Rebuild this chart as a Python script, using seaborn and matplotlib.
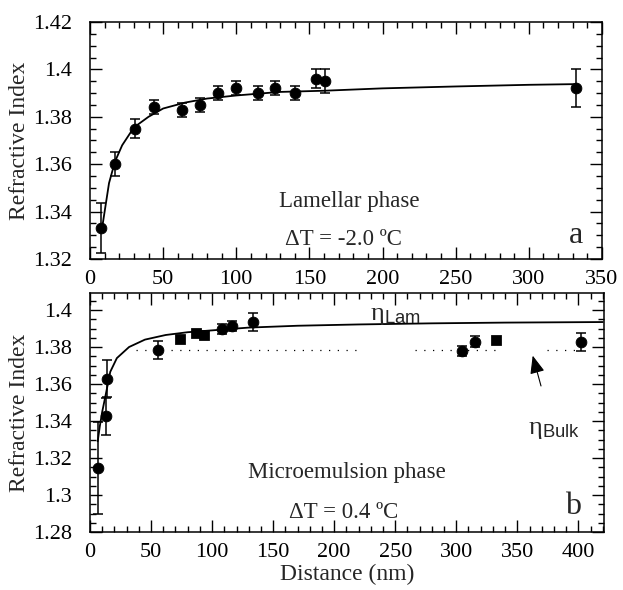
import numpy as np
import pandas as pd
import matplotlib
matplotlib.use("Agg")
import matplotlib.pyplot as plt
import seaborn as sns
from matplotlib.ticker import MultipleLocator, FormatStrFormatter

# ---------------- data ----------------
# Panel a: Lamellar phase
lam_x = [7.3, 16.8, 30.9, 43.9, 63.1, 75.3, 87.8, 100.0, 114.6, 126.6, 139.8, 154.2, 160.7, 332.5]
lam_y = [1.333, 1.360, 1.375, 1.384, 1.383, 1.385, 1.390, 1.392, 1.390, 1.392, 1.390, 1.396, 1.395, 1.392]
lam_err = [0.0105, 0.005, 0.004, 0.003, 0.003, 0.003, 0.003, 0.003, 0.003, 0.003, 0.003, 0.004, 0.005, 0.008]
lam_fit_x = [8, 10, 13, 17, 22, 30, 40, 50, 65, 80, 100, 130, 160, 200, 250, 300, 333]
lam_fit_y = [1.332, 1.340, 1.352, 1.361, 1.368, 1.3755, 1.380, 1.3835, 1.386, 1.3877,
             1.389, 1.3905, 1.391, 1.392, 1.3928, 1.3935, 1.3938]

# Panel b: Microemulsion phase
mic_circ_x = [6.6, 13.5, 14.2, 56.0, 108.0, 116.6, 133.8, 304.6, 315.6, 401.9]
mic_circ_y = [1.3146, 1.3427, 1.3629, 1.3784, 1.3896, 1.3914, 1.3934, 1.3778, 1.3829, 1.3829]
mic_circ_err = [0.025, 0.010, 0.010, 0.005, 0.0028, 0.0025, 0.005, 0.0028, 0.0028, 0.0048]
mic_sq_x = [74.0, 86.6, 93.7, 332.2]
mic_sq_y = [1.3845, 1.3877, 1.3867, 1.384]
mic_fit_x = [6.3, 8, 10, 12.5, 16.6, 22, 32, 45, 62, 80, 100, 130, 170, 220, 280, 340, 420]
mic_fit_y = [1.329, 1.337, 1.345, 1.353, 1.3666, 1.374, 1.380, 1.384, 1.3865, 1.388,
             1.389, 1.3905, 1.3915, 1.3922, 1.3928, 1.3932, 1.3935]
bulk_level = 1.3784
bulk_segments = [(38, 221), (266, 334), (374, 398)]

top_xticks = [0, 50, 100, 150, 200, 250, 300, 350]
top_yticks = [1.32, 1.34, 1.36, 1.38, 1.40, 1.42]
bot_xticks = [0, 50, 100, 150, 200, 250, 300, 350, 400]
bot_yticks = [1.28, 1.30, 1.32, 1.34, 1.36, 1.38, 1.40]

# ---------------- style ----------------
sns.set_style("ticks")
plt.rcParams['font.family'] = ['Liberation Serif', 'DejaVu Serif']
plt.rcParams['mathtext.fontset'] = 'custom'
plt.rcParams['mathtext.rm'] = 'Liberation Serif'
plt.rcParams['mathtext.it'] = 'Liberation Serif:italic'
plt.rcParams['mathtext.sf'] = 'Liberation Sans'
plt.rcParams['axes.linewidth'] = 1.1

fig = plt.figure(figsize=(6.23, 5.90), dpi=100)
ax1 = fig.add_axes([90/623, 1-259/590, 512/623, 237/590])
ax2 = fig.add_axes([90/623, 1-532/590, 514/623, 239/590])

def style_axis(ax, xlim, ylim, xticks, yticks):
    ax.set_xlim(*xlim)
    ax.set_ylim(*ylim)
    ax.set_xticks(xticks)
    ax.set_yticks(yticks)
    ax.xaxis.set_minor_locator(MultipleLocator(10))
    ax.yaxis.set_minor_locator(MultipleLocator(0.005))
    ax.yaxis.set_major_formatter(FormatStrFormatter('%g'))
    ax.tick_params(which='both', direction='in', top=True, right=True, width=1.0, colors='black')
    ax.tick_params(which='major', length=8.5)
    ax.tick_params(which='minor', length=4)
    ax.tick_params(axis='y', which='major', pad=13, labelsize=16)
    ax.tick_params(axis='x', which='major', pad=8, labelsize=16)
    for s in ax.spines.values():
        s.set_visible(True)
        s.set_color('black')

# ---- panel a ----
df_a = pd.DataFrame({'x': lam_x, 'y': lam_y})
df_af = pd.DataFrame({'x': lam_fit_x, 'y': lam_fit_y})
sns.lineplot(data=df_af, x='x', y='y', ax=ax1, color='black', lw=1.3, sort=True)
ax1.errorbar(lam_x, lam_y, yerr=lam_err, fmt='none', ecolor='black', elinewidth=1.1, capsize=3.5, capthick=1.1)
sns.scatterplot(data=df_a, x='x', y='y', ax=ax1, color='black', s=60, marker='o', edgecolor='black', zorder=5)
style_axis(ax1, (0, 350), (1.32, 1.42), top_xticks, top_yticks)
ax1.set_xlabel('')
ax1.set_ylabel('Refractive Index', fontsize=17, labelpad=2)
ax1.text(177, 1.3443, 'Lamellar phase', fontsize=16.5, ha='center', va='center')
ax1.text(173, 1.3281, 'ΔT = -2.0 ºC', fontsize=16.5, ha='center', va='center')
ax1.text(332, 1.3300, 'a', fontsize=23, ha='center', va='center')

# ---- panel b ----
df_bc = pd.DataFrame({'x': mic_circ_x, 'y': mic_circ_y})
df_bs = pd.DataFrame({'x': mic_sq_x, 'y': mic_sq_y})
df_bf = pd.DataFrame({'x': mic_fit_x, 'y': mic_fit_y})
sns.lineplot(data=df_bf, x='x', y='y', ax=ax2, color='black', lw=1.3, sort=True)
for a, b in bulk_segments:
    ax2.plot([a, b], [bulk_level, bulk_level], color='black', lw=0.9, linestyle=(0, (1, 6)))
ax2.errorbar(mic_circ_x, mic_circ_y, yerr=mic_circ_err, fmt='none', ecolor='black', elinewidth=1.1, capsize=3.5, capthick=1.1)
sns.scatterplot(data=df_bc, x='x', y='y', ax=ax2, color='black', s=60, marker='o', edgecolor='black', zorder=5)
sns.scatterplot(data=df_bs, x='x', y='y', ax=ax2, color='black', s=48, marker='s', edgecolor='black', zorder=5)
style_axis(ax2, (0, 421), (1.28, 1.4092), bot_xticks, bot_yticks)
ax2.set_xlabel('Distance (nm)', fontsize=17, labelpad=1)
ax2.set_ylabel('Refractive Index', fontsize=17, labelpad=2)
ax2.text(250, 1.3965, 'η$_{\\mathsf{Lam}}$', fontsize=19, ha='center', va='center')
ax2.text(380, 1.3350, 'η$_{\\mathsf{Bulk}}$', fontsize=19, ha='center', va='center')
ax2.annotate('', xy=(362, 1.3768), xytext=(370, 1.3575),
             arrowprops=dict(arrowstyle='-|>,head_length=1.1,head_width=0.45', color='black', lw=0.8))
ax2.text(210, 1.3119, 'Microemulsion phase', fontsize=16.5, ha='center', va='center')
ax2.text(208, 1.2903, 'ΔT = 0.4 ºC', fontsize=16.5, ha='center', va='center')
ax2.text(396, 1.2939, 'b', fontsize=23, ha='center', va='center')

fig.savefig('out.png', dpi=100)
